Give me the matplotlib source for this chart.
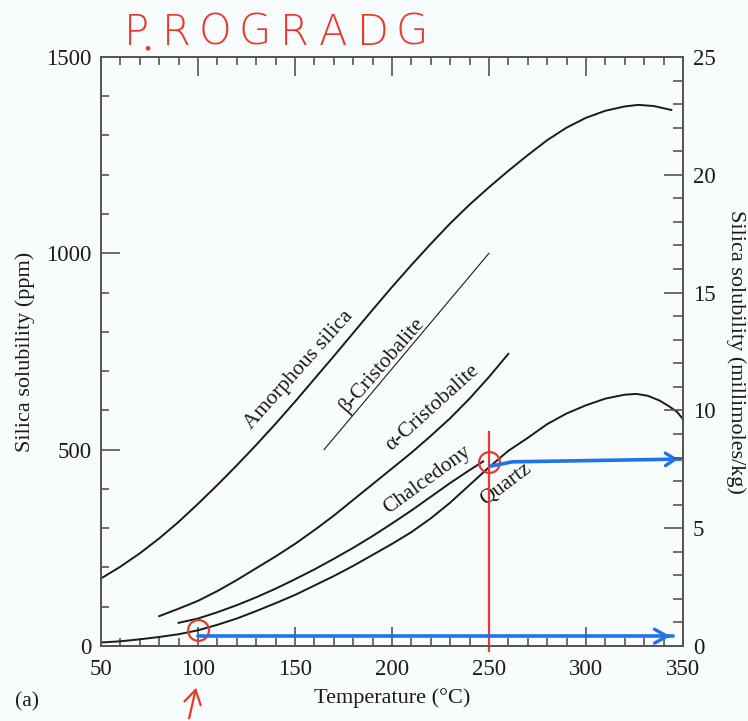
import numpy as np
import matplotlib.pyplot as plt
from matplotlib.ticker import MultipleLocator
from matplotlib.patches import FancyArrowPatch, Circle


# DATA
# temperature (degC) vs silica solubility (ppm) for each silica phase
amorph_t = [50, 60, 70, 80, 90, 100, 110, 120, 130, 140, 150, 160, 170, 180, 190,
            200, 210, 220, 230, 240, 250, 260, 270, 280, 290, 300, 310, 320, 327, 335, 344]
amorph_s = [172, 202, 236, 274, 316, 362, 410, 460, 512, 566, 622, 680, 738, 797, 856,
            914, 970, 1024, 1076, 1124, 1168, 1210, 1250, 1288, 1320, 1345, 1363, 1374, 1378, 1375, 1365]

beta_t = [165, 250]
beta_s = [500, 1000]

alpha_t = [80, 90, 100, 110, 120, 130, 140, 150, 160, 170, 180, 190, 200, 210, 220, 230, 240, 250, 260]
alpha_s = [76, 95, 115, 140, 168, 198, 228, 260, 295, 332, 372, 412, 452, 492, 535, 580, 630, 685, 744]

chalc_t = [90, 100, 110, 120, 130, 140, 150, 160, 170, 180, 190, 200, 210, 220, 230, 240, 247]
chalc_s = [59, 70, 86, 104, 124, 146, 170, 195, 222, 250, 280, 312, 345, 380, 415, 448, 470]

quartz_t = [50, 60, 70, 80, 90, 100, 110, 120, 130, 140, 150, 160, 170, 180, 190, 200, 210,
            220, 230, 240, 250, 260, 270, 280, 290, 300, 310, 320, 326, 332, 338, 343, 347, 350]
quartz_s = [9, 12, 17, 23, 30, 40, 54, 70, 89, 109, 130, 154, 178, 204, 232, 260, 290,
            325, 365, 410, 455, 497, 530, 565, 592, 613, 630, 640, 642, 637, 625, 610, 596, 578]

# curve labels: text, temperature, ppm, rotation
labels = ['Amorphous silica', '\u03b2-Cristobalite', '\u03b1-Cristobalite', 'Chalcedony', 'Quartz']
label_t = [152, 195, 221, 218, 259]
label_s = [703, 716, 606, 423, 412]
label_rot = [48, 49, 42, 36, 37]

# hand annotations drawn over the figure
circle_t = [100, 250]
circle_s = [41, 469]
vline_t = 250
vline_s = [545, -12]
upper_arrow_t = [251, 262, 349]
upper_arrow_s = [458, 469, 476]
lower_arrow_t = [100, 345]
lower_arrow_s = [25, 25]
scribble = 'PROGRADG'

RED = '#e8392d'
BLUE = '#1f74ea'
INK = '#1a1a1a'
GREY = '#555555'

plt.rcParams['font.family'] = ['Liberation Serif', 'DejaVu Serif']
plt.rcParams['mathtext.fontset'] = 'stix'

# PLOTTING
fig = plt.figure(figsize=(7.48, 7.21), dpi=100, facecolor='#f8fcfc')
ax = fig.add_axes([0.135, 0.104, 0.778, 0.817])
ax.set_facecolor('#f8fcfc')

for t, s in [(amorph_t, amorph_s), (alpha_t, alpha_s), (chalc_t, chalc_s), (quartz_t, quartz_s)]:
    ax.plot(t, s, color=INK, lw=1.4, solid_joinstyle='round')
ax.plot(beta_t, beta_s, color=INK, lw=0.8)

for txt, t, s, r in zip(labels, label_t, label_s, label_rot):
    ax.text(t, s, txt, rotation=r, rotation_mode='anchor', ha='center', va='center',
            fontsize=15.5, color=INK)

ax.set_xlim(50, 350)
ax.set_ylim(0, 1500)
ax.xaxis.set_major_locator(MultipleLocator(50))
ax.xaxis.set_minor_locator(MultipleLocator(10))
ax.yaxis.set_major_locator(MultipleLocator(500))
ax.yaxis.set_minor_locator(MultipleLocator(100))
ax.tick_params(axis='x', which='both', direction='in', top=True, bottom=True, colors=GREY,
               labelcolor=INK, labelsize=16.5, pad=9)
ax.tick_params(axis='y', which='both', direction='in', left=True, right=False, colors=GREY,
               labelcolor=INK, labelsize=16.5, pad=7)
ax.tick_params(which='major', length=14, width=1.2)
ax.tick_params(which='minor', length=6, width=1.2)
for sp in ax.spines.values():
    sp.set_color(GREY)
    sp.set_linewidth(1.3)

ax.set_xlabel('Temperature (\u00b0C)', fontsize=16, color=INK, labelpad=6)
ax.set_ylabel('Silica solubility (ppm)', fontsize=16, color=INK, labelpad=8)

ax2 = ax.twinx()
ax2.set_ylim(0, 25)
ax2.yaxis.set_major_locator(MultipleLocator(5))
ax2.yaxis.set_minor_locator(MultipleLocator(1))
ax2.tick_params(axis='y', which='both', direction='in', colors=GREY, labelcolor=INK,
                labelsize=16.5, pad=7)
ax2.tick_params(which='major', length=14, width=1.2)
ax2.tick_params(which='minor', length=7, width=1.2)
for sp in ax2.spines.values():
    sp.set_color(GREY)
    sp.set_linewidth(1.3)
ax2.set_ylabel('Silica solubility (millimoles/kg)', fontsize=16, color=INK,
               rotation=-90, labelpad=22)

fig.text(0.02, 0.027, '(a)', fontsize=15.5, color=INK, ha='left', va='center')

# red and blue pen marks
ax.plot([vline_t, vline_t], vline_s, color=RED, lw=1.6, clip_on=False, zorder=5)
ax.plot(circle_t, circle_s, ls='none', marker='o', ms=15, mfc='none', mec=RED, mew=1.6,
        clip_on=False, zorder=6)
ax.plot(upper_arrow_t, upper_arrow_s, color=BLUE, lw=2.6, solid_capstyle='round', zorder=6)
ax.annotate('', xy=(upper_arrow_t[-1], upper_arrow_s[-1]),
            xytext=(upper_arrow_t[-1] - 6, upper_arrow_s[-1] - 0.5),
            arrowprops=dict(arrowstyle='->,head_length=0.7,head_width=0.45', color=BLUE, lw=2.4),
            annotation_clip=False, zorder=6)
ax.plot(lower_arrow_t, lower_arrow_s, color=BLUE, lw=2.6, solid_capstyle='round', zorder=6)
ax.annotate('', xy=(lower_arrow_t[-1], lower_arrow_s[-1]),
            xytext=(lower_arrow_t[-1] - 6, lower_arrow_s[-1]),
            arrowprops=dict(arrowstyle='->,head_length=0.9,head_width=0.5', color=BLUE, lw=2.4),
            annotation_clip=False, zorder=6)

# little arrow under the 100 tick
fig.add_artist(FancyArrowPatch((0.252, 0.0), (0.263, 0.050), transform=fig.transFigure,
                               arrowstyle='->,head_length=0.5,head_width=0.3',
                               mutation_scale=20, color=RED, lw=1.6))

# handwritten word above the frame
for i, ch in enumerate(scribble):
    fig.text(0.183 + i * 0.0525, 0.955, ch, fontsize=30, color=RED, family='DejaVu Sans',
             fontweight='light', ha='center', va='center')
fig.add_artist(Circle((0.198, 0.933), 0.0022, transform=fig.transFigure, color=RED))

plt.savefig('out.png', dpi=100, facecolor=fig.get_facecolor())
